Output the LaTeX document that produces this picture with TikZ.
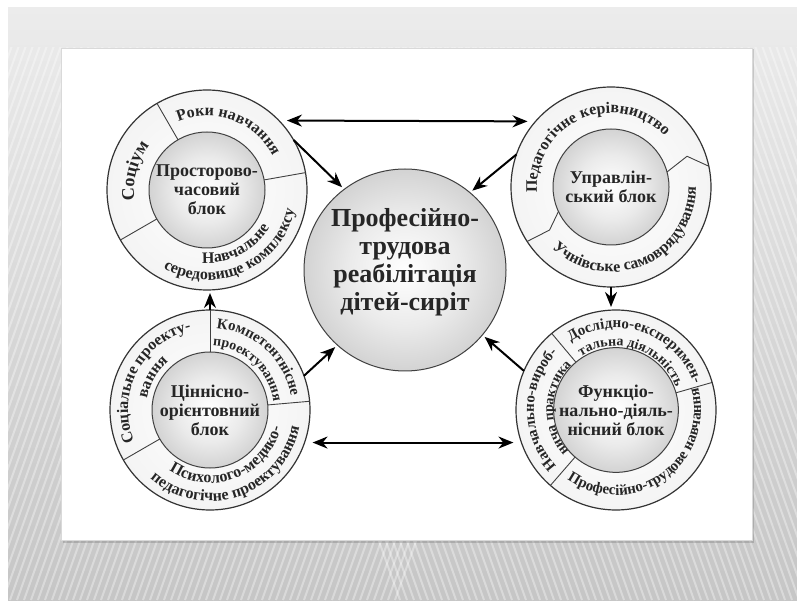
\documentclass[tikz,border=0pt]{standalone}
\usepackage{fontspec}
\setmainfont{Liberation Serif}
\usetikzlibrary{arrows.meta}
\usetikzlibrary{decorations.text}
\usetikzlibrary{calc}

\newcommand\ringfont{\bfseries\fontsize{16}{16}\selectfont}
\newcommand\ringsmall{\bfseries\fontsize{15}{15}\selectfont}
\newcommand\ringtiny{\bfseries\fontsize{14}{14}\selectfont}
\newcommand\ringbig{\bfseries\fontsize{18}{18}\selectfont}

\pgfdeclareradialshading{orb}{\pgfpoint{0bp}{0bp}}{color(0bp)=(white); color(14bp)=(white!92!black); color(40bp)=(white!70!black); color(50bp)=(white!58!black)}
\pgfdeclareradialshading{band}{\pgfpoint{0bp}{0bp}}{color(0bp)=(white); color(29bp)=(white!95!black); color(50bp)=(white!78!black)}

\begin{document}
\begin{tikzpicture}[x=1pt, y=1pt, >=Stealth,
    ring/.style={circle, draw=black!80, line width=1.2pt, minimum size=200pt, inner sep=0pt, outer sep=0pt, shading=band},
    core/.style={circle, draw=black!75, line width=1pt, minimum size=116pt, inner sep=0pt, outer sep=0pt, shading=orb,
        align=center, text=black!85, font=\bfseries\fontsize{18}{19}\selectfont},
    hub/.style={circle, draw=black!75, line width=1pt, minimum size=202pt, inner sep=0pt, outer sep=0pt, shading=orb},
    sep/.style={draw=black!75, line width=0.9pt},
    link/.style={line width=2pt, -{Stealth[length=15pt,width=12pt]}, shorten >=3pt},
    both/.style={line width=2pt, {Stealth[length=15pt,width=12pt]}-{Stealth[length=15pt,width=12pt]}, shorten >=8pt, shorten <=8pt},
    arcpath/.style={decorate, decoration={text along path, text align=center, text color=black!85, text={#1}}}]
    % slide background
    \fill[white] (0,0) rectangle (797,600);
    \shade[top color=gray!15, bottom color=gray!45] (8,0) rectangle (797,592);
    \begin{scope}
        \clip (8,0) rectangle (797,552);
        \foreach \x in {-200,-193,...,400}
            \draw[white, opacity=.35, line width=2pt] (\x,0) -- (\x+200,560);
        \foreach \x in {400,407,...,1000}
            \draw[white, opacity=.35, line width=2pt] (\x,0) -- (\x-200,560);
    \end{scope}
    \fill[black, opacity=.15] (63,57) rectangle (754,551);
    \fill[white, draw=gray!30] (61,60) rectangle (752,552);

    % blocks
    \node[ring] (tl) at (207,410) {};
    \node[core] (tlc) at (tl) {Просторово-\\часовий\\блок};
    \node[ring] (tr) at (611,413) {};
    \node[core] (trc) at (tr) {Управлін-\\ський блок};
    \node[ring] (bl) at (210,190) {};
    \node[core] (blc) at (bl) {Ціннісно-\\орієнтовний\\блок};
    \node[ring] (br) at (616,190) {};
    \node[core] (brc) at (br) {Функціо-\\нально-діяль-\\нісний блок};
    \node[hub] (hub) at (405,330) {};
    \node[align=center, text=black!85, font=\bfseries\fontsize{26}{28}\selectfont] (hubtxt) at (405,338)
        {Професійно-\\трудова\\реабілітація\\дітей-сиріт};

    % sectors
    \draw[sep] (tlc.120) -- (tl.120);
    \draw[sep] (tlc.10) -- (tl.10);
    \draw[sep] (tlc.210) -- (tl.210);
    \draw[sep] (trc.205) -- ($(tr.center)+(215:75pt)$) -- (tr.213);
    \draw[sep] (trc.15) -- ($(tr.center)+(22:82pt)$) -- (tr.12);
    \draw[sep] (blc.90) -- (bl.90);
    \draw[sep] (blc.5) -- (bl.5);
    \draw[sep] (blc.210) -- (bl.210);
    \draw[sep] (brc.130) -- (br.130);
    \draw[sep] (brc.16) -- (br.16);
    \draw[sep] (brc.229) -- (br.229);

    % ring labels
    \path[arcpath={|\ringfont|Роки навчання}] ($(tl.center)+(120:74pt)$) arc[start angle=120, end angle=20, radius=74pt];
    \path[arcpath={|\ringbig|Соціум}] ($(tl.center)+(210:73pt)$) arc[start angle=210, end angle=120, radius=73pt];
    \path[arcpath={|\ringfont|Навчальне}] ($(tl.center)+(240:73pt)$) arc[start angle=240, end angle=355, radius=73pt];
    \path[arcpath={|\ringfont|середовище комплексу}] ($(tl.center)+(230:90pt)$) arc[start angle=230, end angle=358, radius=90pt];

    \path[arcpath={|\ringfont|Педагогічне керівництво}] ($(tr.center)+(190:74pt)$) arc[start angle=190, end angle=38, radius=74pt];
    \path[arcpath={|\ringfont|Учнівське самоврядування}] ($(tr.center)+(218:85pt)$) arc[start angle=218, end angle=368, radius=85pt];

    \path[arcpath={|\ringfont|Соціальне проекту-}] ($(bl.center)+(210:82pt)$) arc[start angle=210, end angle=96, radius=82pt];
    \path[arcpath={|\ringfont|вання}] ($(bl.center)+(190:64pt)$) arc[start angle=190, end angle=110, radius=64pt];
    \path[arcpath={|\ringsmall|Компетентнісне}] ($(bl.center)+(88:82pt)$) arc[start angle=88, end angle=7, radius=82pt];
    \path[arcpath={|\ringtiny|проектування}] ($(bl.center)+(88:64pt)$) arc[start angle=88, end angle=7, radius=64pt];
    \path[arcpath={|\ringfont|Психолого-медико-}] ($(bl.center)+(232:73pt)$) arc[start angle=232, end angle=350, radius=73pt];
    \path[arcpath={|\ringfont|педагогічне проектування}] ($(bl.center)+(220:91pt)$) arc[start angle=220, end angle=358, radius=91pt];

    \path[arcpath={|\ringsmall|Навчально-вироб-}] ($(br.center)+(226:82pt)$) arc[start angle=226, end angle=133, radius=82pt];
    \path[arcpath={|\ringtiny|нича практика}] ($(br.center)+(222:63pt)$) arc[start angle=222, end angle=134, radius=63pt];
    \path[arcpath={|\ringsmall|Дослідно-експеримен-}] ($(br.center)+(128:82pt)$) arc[start angle=128, end angle=14, radius=82pt];
    \path[arcpath={|\ringtiny|тальна діяльність}] ($(br.center)+(126:64pt)$) arc[start angle=126, end angle=18, radius=64pt];
    \path[arcpath={|\ringsmall|Професійно-трудове навчання}] ($(br.center)+(232:85pt)$) arc[start angle=232, end angle=378, radius=85pt];

    % links
    \draw[both] (tl.44) -- (tr.139);
    \draw[both] (bl.-19) -- (br.199);
    \draw[link] (tl.30) -- (hub.127);
    \draw[link] (tr.161) -- (hub.50);
    \draw[link] (bl.20) -- (hub.228);
    \draw[link] (br.157) -- (hub.320);
    \draw[link] (tr.south) -- (tr.south |- br.north);
    \draw[link] (bl.north) -- (bl.north |- tl.south);
\end{tikzpicture}
\end{document}
